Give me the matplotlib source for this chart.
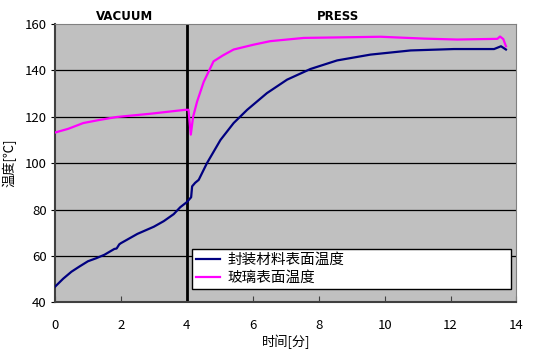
import matplotlib
matplotlib.use("Agg")
import matplotlib.pyplot as plt

plt.rcParams['font.family'] = ['Noto Sans CJK SC', 'DejaVu Sans']

# Data
seal_x = [0, 0.25, 0.5, 0.75, 1.0, 1.25, 1.5, 1.8, 1.87, 1.95, 2.0, 2.5, 3.0, 3.3, 3.6, 3.8, 4.0,
          4.13, 4.16, 4.25, 4.36, 4.61, 5.02, 5.42, 5.83, 6.43, 7.04, 7.75, 8.56, 9.57, 10.79,
          12.1, 13.32, 13.53, 13.68]
seal_y = [46.7, 50.2, 53.2, 55.5, 57.7, 59, 60.5, 63, 63.2, 65, 65.5, 69.5, 72.6, 75, 78, 81, 83.2,
          85.3, 90, 91.5, 92.8, 100, 110, 117.3, 123, 130.2, 136, 140.6, 144.3, 146.8, 148.6,
          149.2, 149.2, 150.4, 149]
glass_x = [0, 0.4, 0.86, 1.3, 1.87, 2.89, 3.95, 4.05, 4.12, 4.19, 4.31, 4.51, 4.81, 5.1, 5.42,
           6.03, 6.53, 7.55, 9.88, 11.2, 12.2, 13.42, 13.5, 13.6, 13.68]
glass_y = [113.2, 114.8, 117.3, 118.5, 119.9, 121.3, 123, 123, 112.3, 120, 126.5, 135, 143.9,
           146.5, 149, 151.1, 152.6, 154, 154.5, 153.7, 153.3, 153.6, 154.6, 153.5, 150.4]
series_names = ['封装材料表面温度', '玻璃表面温度']
phase_labels = ['VACUUM', 'PRESS']
phase_split = 4
x_ticks = [0, 2, 4, 6, 8, 10, 12, 14]
y_ticks = [40, 60, 80, 100, 120, 140, 160]

fig = plt.figure(figsize=(5.37, 3.62), dpi=100)
ax = fig.add_axes([0.1024, 0.1649, 0.8594, 0.7688])
ax.set_facecolor('#C0C0C0')

for yv in y_ticks[1:-1]:
    ax.axhline(yv, color='black', lw=0.9, zorder=1)
ax.axvline(phase_split, color='black', lw=2, zorder=2)

ax.plot(seal_x, seal_y, color='#000080', lw=1.6, label=series_names[0], zorder=3)
ax.plot(glass_x, glass_y, color='#FF00FF', lw=1.6, label=series_names[1], zorder=3)

ax.set_xlim(0, 14)
ax.set_ylim(40, 160)
ax.set_xticks(x_ticks)
ax.set_yticks(y_ticks)
ax.tick_params(axis='x', direction='in', length=4, pad=12, labelsize=9.5, color='#404040')
ax.tick_params(axis='y', direction='out', length=3, pad=3, labelsize=9.5)

for s in ['top', 'right']:
    ax.spines[s].set_color('#808080')
ax.spines['bottom'].set_color('#404040')
ax.spines['bottom'].set_linewidth(1.5)
ax.spines['left'].set_color('#404040')
ax.spines['left'].set_linewidth(1.5)

ax.set_xlabel('时间[分]', fontsize=9.5, labelpad=2)
ax.set_ylabel('温度[℃]', fontsize=9.5, labelpad=6)

ax.text(2.1, 160.5, phase_labels[0], ha='center', va='bottom', fontsize=8.5,
        fontweight='bold', family='DejaVu Sans')
ax.text(8.6, 160.5, phase_labels[1], ha='center', va='bottom', fontsize=8.5,
        fontweight='bold', family='DejaVu Sans')

leg = ax.legend(loc='lower left', bbox_to_anchor=(0.297, 0.048, 0.692, 0.162), mode='expand',
                borderaxespad=0, fontsize=10.5, frameon=True, fancybox=False, framealpha=1,
                edgecolor='black', handlelength=1.7, handletextpad=0.5,
                borderpad=0.25, labelspacing=0.3)
leg.get_frame().set_linewidth(1.0)

fig.savefig('out.png', dpi=100)
